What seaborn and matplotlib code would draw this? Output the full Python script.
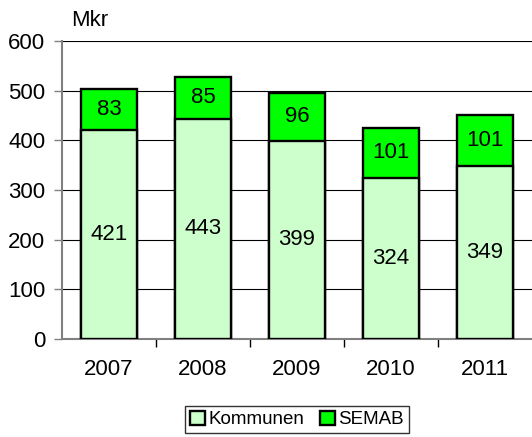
import pandas as pd
import matplotlib
matplotlib.use("Agg")
import matplotlib.pyplot as plt
import seaborn as sns
from matplotlib.patches import Patch
from matplotlib import font_manager

# Data
years = ["2007", "2008", "2009", "2010", "2011"]
kommunen = [421, 443, 399, 324, 349]
semab = [83, 85, 96, 101, 101]

sns.set_style("white")
plt.rcParams["font.family"] = ["Liberation Sans", "DejaVu Sans"]
plt.rcParams["text.color"] = "black"
plt.rcParams["xtick.color"] = "black"
plt.rcParams["ytick.color"] = "black"

# Legend uses a narrow face in the original, if we have one
names = {f.name for f in font_manager.fontManager.ttflist}
if "Liberation Sans Narrow" in names:
    legend_family, legend_size = ["Liberation Sans Narrow"], 16
else:
    legend_family, legend_size = ["Liberation Sans"], 13.5

df = pd.DataFrame({"year": years, "kommunen": kommunen, "semab": semab})
df["total"] = df["kommunen"] + df["semab"]

fig = plt.figure(figsize=(5.32, 4.37), dpi=100)
ax = fig.add_axes([62 / 532, 1 - 339 / 437, 470 / 532, 298 / 437])

# Stacked bars: total first (SEMAB colour), then Kommunen on top of it
sns.barplot(data=df, x="year", y="total", color="#00FF00", saturation=1,
            width=0.59, edgecolor="black", linewidth=1.7, ax=ax, zorder=3)
sns.barplot(data=df, x="year", y="kommunen", color="#CCFFCC", saturation=1,
            width=0.59, edgecolor="black", linewidth=1.7, ax=ax, zorder=4)

# Value labels in the middle of each segment
for i, row in df.iterrows():
    ax.text(i, row["kommunen"] / 2, str(row["kommunen"]), ha="center", va="center",
            fontsize=16, zorder=5)
    ax.text(i, row["kommunen"] + row["semab"] / 2, str(row["semab"]), ha="center",
            va="center", fontsize=16, zorder=5)

ax.set_xlim(-0.5, 4.5)
ax.set_ylim(0, 600)
ax.set_yticks(range(0, 601, 100))
ax.yaxis.grid(True, color="black", linewidth=0.8, zorder=0)
ax.set_axisbelow(True)
ax.set_xlabel("")
ax.set_ylabel("")

# Axis styling
for side in ["top", "right"]:
    ax.spines[side].set_visible(False)
for side in ["left", "bottom"]:
    ax.spines[side].set_color("#808080")
    ax.spines[side].set_linewidth(1.5)

ax.tick_params(axis="y", which="major", left=True, length=6, width=1, color="#808080",
               labelsize=16, pad=6)
ax.tick_params(axis="x", which="major", bottom=False, labelsize=16, pad=11)
ax.set_xticks([0.5, 1.5, 2.5, 3.5], minor=True)
ax.tick_params(axis="x", which="minor", bottom=True, length=6, width=1, color="black")

fig.text(90 / 532, 1 - 21 / 437, "Mkr", ha="center", va="center", fontsize=16)

handles = [Patch(facecolor="#CCFFCC", edgecolor="black", linewidth=1.7, label="Kommunen"),
           Patch(facecolor="#00FF00", edgecolor="black", linewidth=1.7, label="SEMAB")]
leg = fig.legend(handles=handles, loc="upper center", ncol=2,
                 bbox_to_anchor=(297 / 532, 1 - 406 / 437), frameon=True,
                 fancybox=False, edgecolor="black",
                 handlelength=0.8, handleheight=0.8, handletextpad=0.2,
                 columnspacing=0.8, borderpad=0.25, borderaxespad=0,
                 prop={"family": legend_family, "size": legend_size})
leg.get_frame().set_linewidth(1)

fig.savefig("out.png", dpi=100)
